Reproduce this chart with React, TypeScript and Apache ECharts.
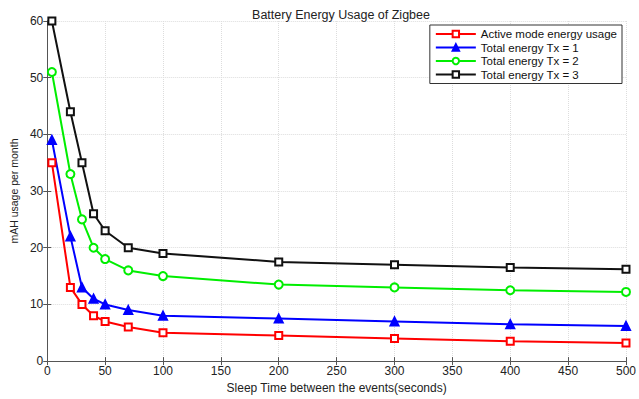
import React, { useEffect, useRef } from "react";
import * as echarts from "echarts";

const sleepTimes = [4, 20, 30, 40, 50, 70, 100, 200, 300, 400, 500];
const activeMode = [35, 13, 10, 8, 7, 6, 5, 4.5, 4, 3.5, 3.2];
const totalTx1 = [39, 22, 13, 11, 10, 9, 8, 7.5, 7, 6.5, 6.2];
const totalTx2 = [51, 33, 25, 20, 18, 16, 15, 13.5, 13, 12.5, 12.2];
const totalTx3 = [60, 44, 35, 26, 23, 20, 19, 17.5, 17, 16.5, 16.2];

const seriesNames = [
  "Active mode energy usage",
  "Total energy Tx = 1",
  "Total energy Tx = 2",
  "Total energy Tx = 3",
];

export default function App() {
  const ref = useRef<HTMLDivElement>(null);
  useEffect(() => {
    if (!ref.current) return;
    const chart = echarts.init(ref.current, null, { renderer: "svg" });
    const font = "Liberation Sans, Arial, sans-serif";
    const mk = (name: string, data: number[], color: string, symbol: string, size: number) => ({
      name,
      type: "line",
      data: sleepTimes.map((x, i) => [x, data[i]]),
      symbol,
      symbolSize: size,
      showAllSymbol: true,
      lineStyle: { color, width: 2 },
      itemStyle: { color: symbol === "triangle" ? color : "#ffffff", borderColor: color, borderWidth: 2 },
      z: 3,
    });
    chart.setOption({
      animation: false,
      backgroundColor: "#ffffff",
      title: {
        text: "Battery Energy Usage of Zigbee",
        left: 336,
        textAlign: "center",
        top: 3,
        textStyle: { fontSize: 12.5, fontWeight: "normal", color: "#222", fontFamily: font },
      },
      legend: {
        orient: "vertical",
        right: 17,
        top: 25,
        itemWidth: 40,
        itemHeight: 8,
        itemGap: 1.5,
        padding: [3, 5, 3, 5],
        borderColor: "#333",
        borderWidth: 1,
        backgroundColor: "#fff",
        textStyle: { fontSize: 11.5, color: "#111", fontFamily: font },
        data: seriesNames,
      },
      grid: { left: 43, right: 9, top: 21, bottom: 30 },
      xAxis: [
        {
          type: "value",
          min: 0,
          max: 500,
          interval: 50,
          name: "Sleep Time between the events(seconds)",
          nameLocation: "middle",
          nameGap: 17,
          nameTextStyle: { fontSize: 12, color: "#222", fontFamily: font },
          axisLine: { lineStyle: { color: "#555", width: 1 } },
          axisTick: { inside: true, length: 4, lineStyle: { color: "#555" } },
          axisLabel: { fontSize: 12, color: "#222", margin: 4, fontFamily: font },
          splitLine: { show: true, lineStyle: { color: "#ddd", type: "dotted" } },
        },
        {
          type: "value",
          position: "top",
          min: 0,
          max: 500,
          interval: 50,
          axisLine: { show: true, lineStyle: { color: "#555", width: 1 } },
          axisTick: { show: true, inside: true, length: 4, lineStyle: { color: "#555" } },
          axisLabel: { show: false },
          splitLine: { show: false },
        },
      ],
      yAxis: [
        {
          type: "value",
          min: 0,
          max: 60,
          interval: 10,
          name: "mAH usage per month",
          nameLocation: "middle",
          nameGap: 27,
          nameTextStyle: { fontSize: 10.5, color: "#222", fontFamily: font },
          axisLine: { show: true, lineStyle: { color: "#555", width: 1 } },
          axisTick: { show: true, inside: true, length: 4, lineStyle: { color: "#555" } },
          axisLabel: { fontSize: 12, color: "#222", margin: 4, fontFamily: font },
          splitLine: { show: true, lineStyle: { color: "#ddd", type: "dotted" } },
        },
        {
          type: "value",
          position: "right",
          min: 0,
          max: 60,
          interval: 10,
          axisLine: { show: true, lineStyle: { color: "#555", width: 1 } },
          axisTick: { show: true, inside: true, length: 4, lineStyle: { color: "#555" } },
          axisLabel: { show: false },
          splitLine: { show: false },
        },
      ],
      series: [
        mk(seriesNames[0], activeMode, "#ff0000", "rect", 7),
        mk(seriesNames[1], totalTx1, "#0000ff", "triangle", 8),
        mk(seriesNames[2], totalTx2, "#00ee00", "circle", 8),
        mk(seriesNames[3], totalTx3, "#111111", "rect", 7),
      ],
    });
    return () => chart.dispose();
  }, []);
  return <div ref={ref} style={{ width: 639, height: 399, position: "absolute", left: 0, top: 0 }} />;
}
